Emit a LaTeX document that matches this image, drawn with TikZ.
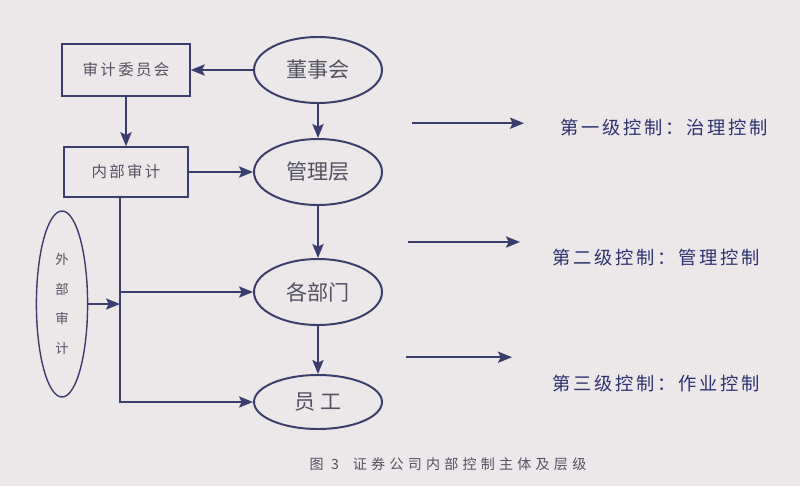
\documentclass[tikz,border=0pt]{standalone}
\usepackage{fontspec}
\setmainfont{Noto Sans CJK SC}
\usetikzlibrary{shapes.geometric,arrows.meta}
\definecolor{ink}{RGB}{58,62,108}
\definecolor{txt}{RGB}{82,82,98}
\definecolor{lbl}{RGB}{45,50,112}
\definecolor{paper}{RGB}{236,231,233}

\begin{document}
\begin{tikzpicture}[->,>={Stealth[length=10pt,width=8pt,inset=2pt]},auto,node distance=2.75cm,line width=1.4pt,color=ink,
    main node/.style={ellipse,draw,minimum width=3.2cm,minimum height=1.65cm,text=txt,font=\fontsize{15}{15}\selectfont},
    box node/.style={rectangle,draw,line width=1pt,minimum width=3.2cm,minimum height=1.3cm,text=txt,
                     font=\fontsize{11}{12}\selectfont\addfontfeature{LetterSpace=15}},
    level node/.style={text=lbl,font=\fontsize{13}{14}\selectfont\addfontfeature{LetterSpace=15}}]

        \fill[paper,-] (0,0) rectangle (20,-12.15);
        \useasboundingbox (0,0) rectangle (20,-12.15);

        \node[main node] (1) at (7.95,-1.75) {董事会};
        \node[main node] (2) [below of=1, yshift=0.2cm]{管理层};
        \node[main node] (3) [below of=2, yshift=-0.25cm]{各部门};
        \node[main node, minimum height=1.35cm] (4) [below of=3]{员\ 工};

        \node[box node] (5) [left of=1, xshift=-2.05cm]{审计委员会};
        \node[box node, minimum width=3.1cm, minimum height=1.25cm] (6) [left of=2, xshift=-2.05cm]{内部审计};

        \node[ellipse, draw, line width=1pt, minimum width=1.28cm, minimum height=4.65cm, align=center,
              text=txt, font=\fontsize{9.5}{21}\selectfont] (7) at (1.55,-7.6) {外\\部\\审\\计};

        % levels of control
        \node[level node] (8) at (16.6,-3.2) {第一级控制：治理控制};
        \node[level node] (9) at (16.4,-6.45) {第二级控制：管理控制};
        \node[level node] (10) at (16.4,-9.6) {第三级控制：作业控制};

        \coordinate (a1) at (10.3,-3.08);
        \coordinate (b1) at (13.1,-3.08);
        \coordinate (a2) at (10.2,-6.05);
        \coordinate (b2) at (13.0,-6.05);
        \coordinate (a3) at (10.15,-8.93);
        \coordinate (b3) at (12.8,-8.93);
        \coordinate (v) at (3.0,0);

        \path
        (1) edge (5)
        (5) edge (6)
        (6) edge (2)
        (1) edge (2)
        (2) edge (3)
        (3) edge (4)
        ;

        \draw[line width=1pt] (v |- 6.south) |- (4);
        \draw[line width=1pt] (v |- 3.west) -- (3);
        \draw[line width=1pt] (7) -- (v |- 7.east);

        \draw (a1) -- (b1);
        \draw (a2) -- (b2);
        \draw (a3) -- (b3);

        \node[text=txt, font=\fontsize{10}{11}\selectfont\addfontfeature{LetterSpace=30}] (11) at (11.2,-11.6) {图 3\quad 证券公司内部控制主体及层级};
    \end{tikzpicture}
\end{document}
